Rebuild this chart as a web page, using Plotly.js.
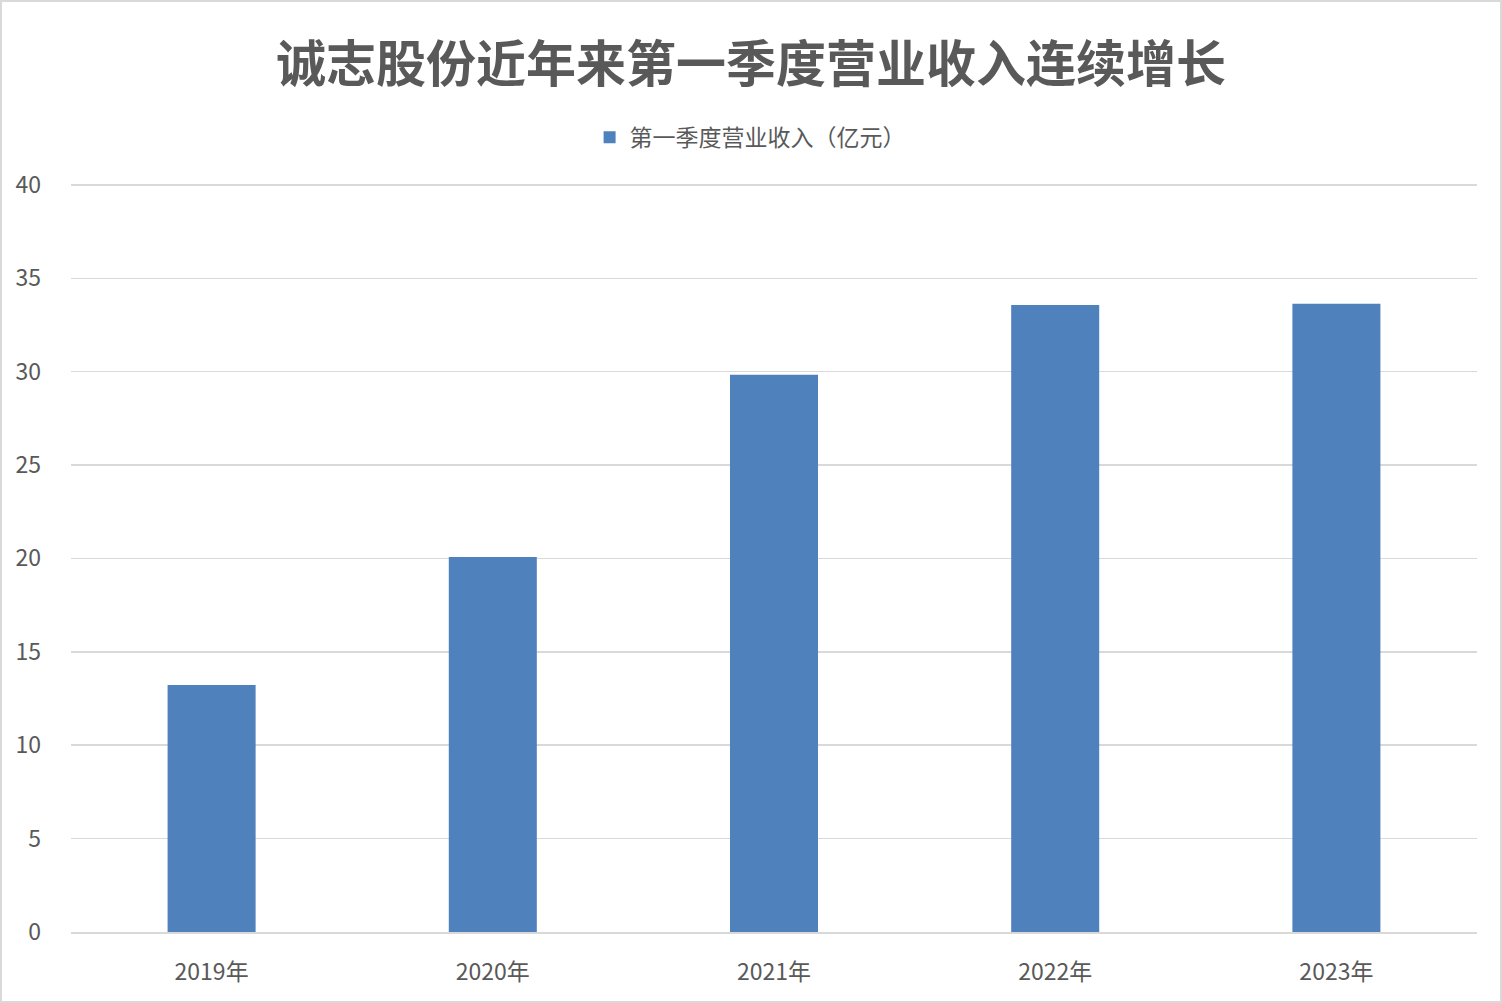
<!DOCTYPE html>
<html>
<head>
<meta charset="utf-8">
<script src="https://cdn.plot.ly/plotly-3.0.1.min.js"></script>
<style>
    html, body { margin: 0; padding: 0; background: #fff; }
    #chart { width: 1502px; height: 1003px; box-sizing: border-box; border: 2px solid #d9d9d9; }
</style>
</head>
<body>
<div id="chart"></div>
<script>
// Chart data
const years = ['2019年', '2020年', '2021年', '2022年', '2023年'];
const revenue = [13.23, 20.08, 29.83, 33.57, 33.63];
const seriesName = '第一季度营业收入（亿元）';
const chartTitle = '诚志股份近年来第一季度营业收入连续增长';

const font = '"Noto Sans CJK SC", "Microsoft YaHei", sans-serif';

const data = [{
    type: 'bar',
    name: seriesName,
    x: years,
    y: revenue,
    marker: { color: '#4f81bd' },
    showlegend: true
}];

const layout = {
    width: 1498,
    height: 999,
    margin: { t: 181, r: 23, b: 69, l: 69 },
    paper_bgcolor: '#fff',
    plot_bgcolor: '#fff',
    font: { family: font, color: '#595959', size: 22 },
    bargap: 0.687,
    title: {
        text: '<b>' + chartTitle + '</b>',
        font: { family: font, size: 50, color: '#595959' },
        x: 0.5,
        xanchor: 'center',
        yref: 'container',
        y: 1 - 62 / 999,
        yanchor: 'middle'
    },
    showlegend: true,
    legend: {
        orientation: 'h',
        x: 0.483,
        xanchor: 'center',
        y: 1.061,
        yanchor: 'middle',
        font: { family: font, size: 23, color: '#595959' },
        itemwidth: 30
    },
    xaxis: {
        type: 'category',
        showgrid: false,
        showline: true,
        linecolor: '#d9d9d9',
        linewidth: 2,
        ticks: '',
        ticklabelstandoff: 18,
        tickfont: { family: font, size: 23, color: '#595959' }
    },
    yaxis: {
        range: [0, 40.1],
        tickvals: [0, 5, 10, 15, 20, 25, 30, 35, 40],
        showgrid: true,
        gridcolor: '#d9d9d9',
        gridwidth: 1.5,
        zeroline: false,
        showline: false,
        ticks: '',
        ticklabelstandoff: 29,
        tickfont: { family: font, size: 23, color: '#595959' }
    }
};

Plotly.newPlot('chart', data, layout, { displayModeBar: false, staticPlot: true });
</script>
</body>
</html>
